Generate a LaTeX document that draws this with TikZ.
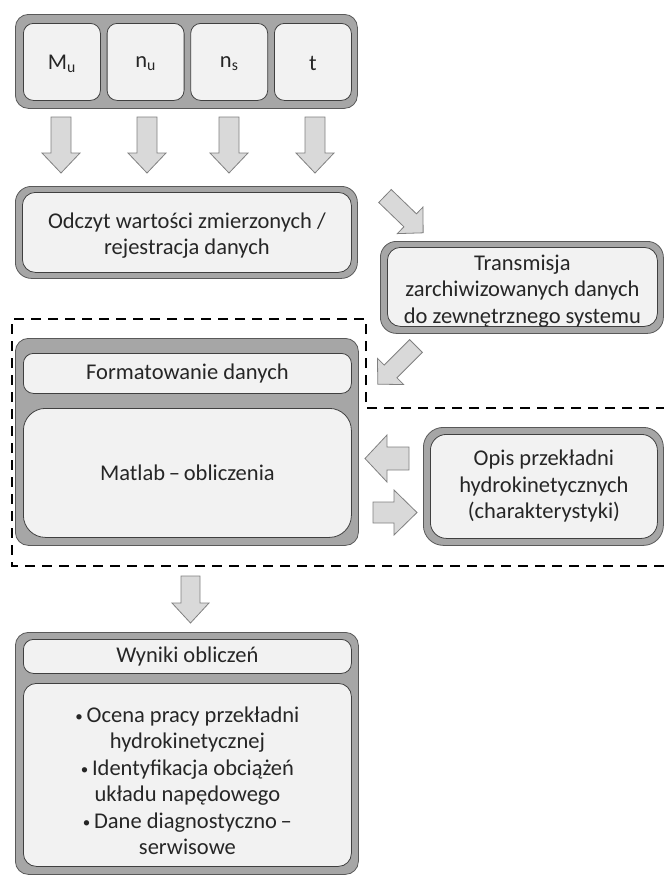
\documentclass[tikz,border=0pt]{standalone}
\usepackage{fontspec}
\setmainfont{Carlito}
\definecolor{rimgray}{HTML}{A6A6A6}
\definecolor{rimline}{HTML}{595959}
\definecolor{innerfill}{HTML}{F2F2F2}
\definecolor{innerline}{HTML}{404040}
\definecolor{arrfill}{HTML}{D9D9D9}
\definecolor{arrline}{HTML}{808080}
\definecolor{txt}{HTML}{262626}
\newcommand\barrow[7]{\begin{scope}[shift={(#1,#2)},rotate=#3]
\draw[blk] (0,-#6) -- ({#4-#5},-#6) -- ({#4-#5},-#7) -- (#4,0) -- ({#4-#5},#7) -- ({#4-#5},#6) -- (0,#6) -- cycle;
\end{scope}}
\newcommand\bul{{\fontsize{15}{15}\selectfont\raisebox{1pt}{•}}\,}
\begin{document}
\begin{tikzpicture}[x=1pt,y=-1pt,
  rim/.style={draw=rimline,fill=rimgray,line width=0.8pt,rounded corners=13pt,anchor=north west,inner sep=0pt},
  pane/.style={draw=innerline,fill=innerfill,line width=0.8pt,rounded corners=10pt,anchor=north west,inner sep=0pt,align=center,text=txt,font=\fontsize{22.5}{26.5}\selectfont},
  lbl/.style={inner sep=0pt,align=center,text=txt,font=\fontsize{22.5}{26.5}\selectfont},
  blk/.style={draw=arrline,fill=arrfill,line width=0.8pt,line join=miter},
  zone/.style={draw=black,line width=2.6pt,dash pattern=on 10pt off 7pt}]
\useasboundingbox (0,0) rectangle (664,876);
% top row
\node[rim,minimum width=342pt,minimum height=94pt] (top) at (15,14) {};
\node[pane,minimum width=77pt,minimum height=77pt] (mu) at (23,23) {};
\node[pane,minimum width=77pt,minimum height=77pt] (nu) at (106.7,23) {};
\node[pane,minimum width=77pt,minimum height=77pt] (ns) at (190.3,23) {};
\node[pane,minimum width=77pt,minimum height=77pt] (t) at (274,23) {};
\node[lbl] (muT) at ([yshift=-2pt]mu.center) {M\textsubscript{u}};
\node[lbl] (nuT) at ([yshift=-2pt]nu.center) {n\textsubscript{u}};
\node[lbl] (nsT) at ([yshift=-2pt]ns.center) {n\textsubscript{s}};
\node[lbl] (tT) at ([yshift=-2pt]t.center) {t};
% down arrows
\barrow{61}{117}{-90}{56}{20}{10}{19}
\barrow{147}{117}{-90}{56}{20}{10}{19}
\barrow{229}{117}{-90}{56}{20}{10}{19}
\barrow{315}{117}{-90}{56}{20}{10}{19}
% odczyt
\node[rim,minimum width=342pt,minimum height=92pt,rounded corners=16pt] (odr) at (15,186) {};
\node[pane,minimum width=329pt,minimum height=80pt,rounded corners=13pt] (odczyt) at (22,192) {};
\node[lbl] (odczytT) at ([yshift=-3pt]odczyt.center) {Odczyt wartości zmierzonych /\\rejestracja danych};
% transmisja
\node[rim,minimum width=283pt,minimum height=92pt,rounded corners=16pt] (trr) at (380,241) {};
\node[pane,minimum width=270pt,minimum height=79pt,rounded corners=13pt] (trans) at (387,247) {};
\node[lbl] (transT) at ([yshift=-4pt]trans.center) {Transmisja\\zarchiwizowanych danych\\do zewnętrznego systemu};
\barrow{385}{196}{-44}{53}{18}{9}{18.5}
% dashed zone
\draw[zone] (666,408) -- (366,408) -- (366,319) -- (12,319) -- (12,566) -- (666,566);
\barrow{416}{346}{-135}{54}{18}{9}{18.5}
% formatowanie / matlab
\node[rim,minimum width=343pt,minimum height=207pt] (calc) at (15,338) {};
\node[pane,minimum width=328pt,minimum height=40pt] (format) at (23,353) {Formatowanie danych};
\node[pane,minimum width=328pt,minimum height=129pt,rounded corners=22pt] (matlab) at (23,408) {Matlab\,–\,obliczenia};
% opis
\node[rim,minimum width=240pt,minimum height=118pt,rounded corners=20pt] (opr) at (423,427) {};
\node[pane,minimum width=227pt,minimum height=104pt,rounded corners=16pt] (opis) at (430,434) {Opis przekładni\\hydrokinetycznych\\(charakterystyki)};
\barrow{409}{458.5}{180}{44}{22}{11.5}{23.5}
\barrow{373}{512.5}{0}{44}{23}{10.5}{22.5}
% bottom arrow
\barrow{190.5}{576}{-90}{47}{20}{9.5}{18.5}
% wyniki
\node[rim,minimum width=343pt,minimum height=242pt] (res) at (15,632) {};
\node[pane,minimum width=328pt,minimum height=34pt] (wyn) at (23,639) {Wyniki obliczeń};
\node[pane,minimum width=328pt,minimum height=183pt,rounded corners=13pt] (list) at (23,683) {};
\node[lbl] (listT) at ([yshift=-6pt]list.center) {\bul Ocena pracy przekładni\\hydrokinetycznej\\\bul Identyfikacja obciążeń\\układu napędowego\\\bul Dane diagnostyczno\,–\\serwisowe};
\end{tikzpicture}
\end{document}
